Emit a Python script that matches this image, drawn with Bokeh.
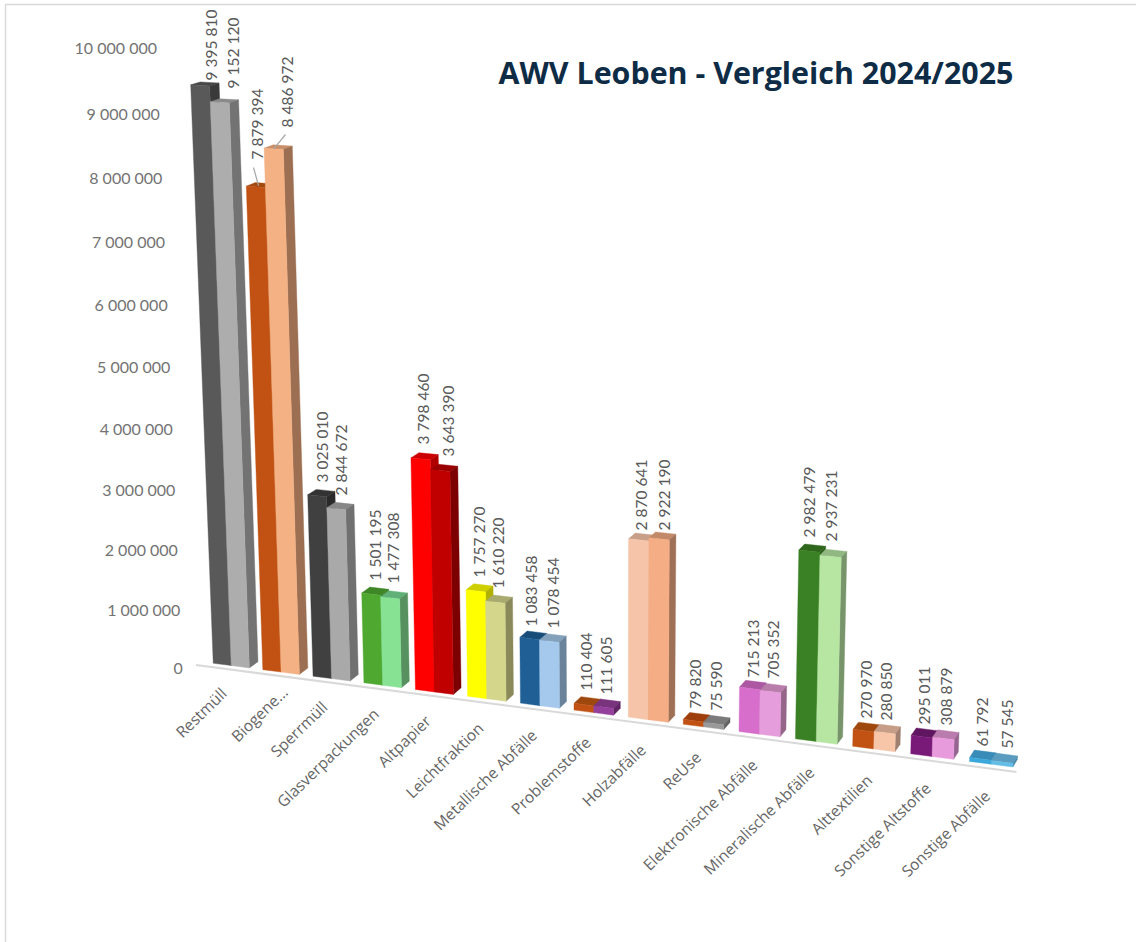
import numpy as np
from bokeh.plotting import figure
from bokeh.embed import file_html
from bokeh.resources import INLINE
from bokeh.models import ColumnDataSource

# ---- data ----
categories = ["Restmüll", "Biogene…", "Sperrmüll", "Glasverpackungen", "Altpapier", "Leichtfraktion",
              "Metallische Abfälle", "Problemstoffe", "Holzabfälle", "ReUse", "Elektronische Abfälle",
              "Mineralische Abfälle", "Alttextilien", "Sonstige Altstoffe", "Sonstige Abfälle"]
values_2024 = [9395810, 7879394, 3025010, 1501195, 3798460, 1757270, 1083458, 110404, 2870641, 79820,
               715213, 2982479, 270970, 295011, 61792]
values_2025 = [9152120, 8486972, 2844672, 1477308, 3643390, 1610220, 1078454, 111605, 2922190, 75590,
               705352, 2937231, 280850, 308879, 57545]
value_ticks = [0, 1000000, 2000000, 3000000, 4000000, 5000000, 6000000, 7000000, 8000000, 9000000, 10000000]
title = "AWV Leoben - Vergleich 2024/2025"

# ---- colours: (front, side, top) ----
colors_2024 = [("#595959", "#3a3a3a", "#474747"), ("#c15213", "#8f3f0a", "#a34a0e"), ("#404040", "#2a2a2a", "#333333"),
               ("#4fa830", "#3a7d23", "#3e8626"), ("#ff0000", "#b00000", "#cc0000"), ("#ffff00", "#b0b000", "#cfcf00"),
               ("#1f5f96", "#164670", "#184d7a"), ("#c15213", "#8f3f0a", "#9e480e"), ("#f6c5a9", "#b08c78", "#c89f88"),
               ("#c15213", "#8f3f0a", "#9e3e0a"), ("#d76ecb", "#9a4f92", "#ac58a2"), ("#3a8024", "#2a5d1a", "#2e661c"),
               ("#c15213", "#8f3f0a", "#9e480e"), ("#7a1a78", "#581358", "#601560"), ("#3ba8dc", "#2b7ba0", "#3a8cb8")]
colors_2025 = [("#adadad", "#737373", "#8a8a8a"), ("#f4b183", "#9c6e52", "#c98f6a"), ("#a9a9a9", "#707070", "#878787"),
               ("#87e294", "#57915f", "#60b078"), ("#c00000", "#7c0000", "#9b0000"), ("#d3d68b", "#89895a", "#a8aa6e"),
               ("#a5c9ec", "#6b839a", "#84a1bc"), ("#943f9b", "#602564", "#7a337d"), ("#f4ad84", "#9e7055", "#c38a6a"),
               ("#999999", "#636363", "#7a7a7a"), ("#e69ddc", "#956689", "#b87dab"), ("#b7e6a3", "#77946a", "#92b882"),
               ("#f7c6a9", "#a08070", "#c69e87"), ("#e89bdc", "#96658f", "#ba7caf"), ("#63bde5", "#4a8cab", "#5a9cc0")]

# ---- layout ----
# camera: category position, value (millions), depth -> page pixels
CAMERA = np.array([[47.94754, -3.479015, 10.1643, 212.7316],
                   [2.244305, -62.03807, -2.243999, 662.734],
                   [-0.006264675, -0.005679203, 0.006010149, 1.0]])
BAR = 0.365
label_x_2024 = [210, 256, 321, 374, 422, 478, 530, 585, 640, 694, 752, 808, 865, 923, 981]
label_y_2024 = [80, 159, 482, 580, 444, 577, 626, 690, 530, 708, 677, 537, 718, 724, 746]
label_x_2025 = [232, 286, 340, 392, 447, 497, 552, 605, 663, 715, 772, 830, 885, 945, 1006]
label_y_2025 = [88, 127, 495, 583, 456, 588, 628, 694, 530, 710, 678, 541, 720, 725, 748]


def P(u, v, d):
    h = CAMERA @ np.array([u, v / 1e6, d, 1.0])
    return h[0] / h[2], h[1] / h[2]


def fmt(n):
    return f"{n:,}".replace(",", " ")


p = figure(width=1136, height=942, x_range=(0, 1136), y_range=(942, 0), x_axis_type=None, y_axis_type=None,
           toolbar_location=None, output_backend="svg", min_border=0, outline_line_color=None,
           background_fill_color="white")
p.grid.visible = False
p.styles = {"position": "absolute", "left": "0px", "top": "0px"}

# chart frame
p.line([5, 5, 1136], [942, 4, 4], line_color="#d9d9d9", line_width=1.5)

# floor line
fx, fy = zip(P(-0.25, 0, -0.55), P(14.83, 0, -0.55))
p.line(fx, fy, line_color="#d9d9d9", line_width=2)

# bars
xs, ys, fills = [], [], []


def face(corners, color):
    pts = [P(*c) for c in corners]
    xs.append([q[0] for q in pts])
    ys.append([q[1] for q in pts])
    fills.append(color)


for i in range(len(categories)):
    for k, (v, col) in enumerate(((values_2024[i], colors_2024[i]), (values_2025[i], colors_2025[i]))):
        a, b = i + k * BAR, i + (k + 1) * BAR
        face([(a, v, 0), (b, v, 0), (b, v, 1), (a, v, 1)], col[2])
        face([(b, 0, 0), (b, v, 0), (b, v, 1), (b, 0, 1)], col[1])
        face([(a, 0, 0), (b, 0, 0), (b, v, 0), (a, v, 0)], col[0])
p.patches("xs", "ys", source=ColumnDataSource(dict(xs=xs, ys=ys, c=fills)), fill_color="c", line_color="c",
          line_width=0.4)

# leader lines of the Biogene labels
p.segment([label_x_2024[1] - 3, label_x_2025[1] - 1],
          [label_y_2024[1] + 8, label_y_2025[1] + 7],
          [P(1 + BAR * 0.5, values_2024[1], 0.3)[0], P(1 + BAR * 1.5, values_2025[1], 0.0)[0]],
          [P(1 + BAR * 0.5, values_2024[1], 0.3)[1], P(1 + BAR * 1.5, values_2025[1], 0.0)[1]],
          line_color="#a6a6a6", line_width=1.2)

# data labels
p.text(label_x_2024 + label_x_2025, label_y_2024 + label_y_2025,
       text=[fmt(v) for v in values_2024 + values_2025], angle=90, angle_units="deg",
       text_align="left", text_baseline="middle", text_color="#595959", text_font={"value": "Lato"},
       text_font_size="15.5px")

# value axis labels
tx, ty = zip(*[P(-0.62, v, 0) for v in value_ticks])
p.text(list(tx), [y + 9 - 5 * v / 1e7 for y, v in zip(ty, value_ticks)], text=[fmt(v) for v in value_ticks],
       text_align="right", text_baseline="middle", text_color="#737373", text_font={"value": "Lato"},
       text_font_size="16px")

# category labels
cx, cy = zip(*[P(i + BAR, 0, 0) for i in range(len(categories))])
n = len(categories) - 1
lx = [x - 7.5 + 3.5 * i / n + (11 if i == 1 else 0) for i, x in enumerate(cx)]
ly = [y + 25 + 4 * i / n - (8 if i == 1 else 0) for i, y in enumerate(cy)]
p.text(lx, ly, text=categories, angle=44, angle_units="deg", text_align="right",
       text_baseline="middle", text_color="#666666", text_font={"value": "Open Sans"}, text_font_size="15.6px")

# title
p.text([498], [71.5], text=[title], text_align="left", text_baseline="middle", text_color="#0f2c46",
       text_font={"value": "Open Sans"}, text_font_style="bold", text_font_size="30.4px")

open("out.html", "w").write(file_html(p, INLINE))
